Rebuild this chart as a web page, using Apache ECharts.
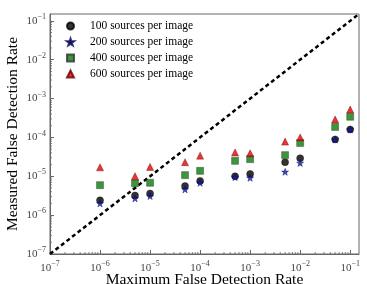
<!DOCTYPE html>
<html><head><meta charset="utf-8">
<script src="https://cdn.jsdelivr.net/npm/echarts@6/dist/echarts.min.js"></script>
<style>html,body{margin:0;padding:0;background:#fff}#c{width:367px;height:284px}</style>
</head><body><div id="c"></div>
<script>
const xRates = [1e-6, 5e-6, 1e-5, 5e-5, 1e-4, 5e-4, 1e-3, 5e-3, 1e-2, 5e-2, 1e-1];
const src100 = [2.4e-6, 3.2e-6, 3.6e-6, 5.6e-6, 7.6e-6, 1.0e-5, 1.15e-5, 2.3e-5, 2.9e-5, 8.9e-5, 1.6e-4];
const src200 = [2.0e-6, 2.7e-6, 3.1e-6, 4.6e-6, 6.8e-6, 9.5e-6, 9.1e-6, 1.3e-5, 2.2e-5, 8.8e-5, 1.6e-4];
const src400 = [5.9e-6, 6.6e-6, 6.8e-6, 1.07e-5, 1.38e-5, 2.5e-5, 2.76e-5, 3.5e-5, 7.2e-5, 1.86e-4, 3.4e-4];
const src600 = [1.7e-5, 1.0e-5, 1.74e-5, 2.3e-5, 3.4e-5, 4.1e-5, 3.9e-5, 7.8e-5, 1.0e-4, 2.9e-4, 5.2e-4];
const seriesNames = ['100 sources per image', '200 sources per image', '400 sources per image', '600 sources per image'];
const axisMin = 1e-7, axisMax = 0.15;
const diagonal = [axisMin, axisMax];
const tickExps = [-7, -6, -5, -4, -3, -2, -1];
const minorMultipliers = [2, 3, 4, 5, 6, 7, 8, 9];

const minorValues = [];
tickExps.forEach(e => minorMultipliers.forEach(m => {
  const v = m * Math.pow(10, e);
  if (v < axisMax) minorValues.push(v);
}));

const FONT = 'Liberation Serif';
const STAR = 'path://M50,0 L61.8,35.1 L97.6,34.5 L68.8,56.6 L79.4,90.5 L50,70 L20.6,90.5 L31.2,56.6 L2.4,34.5 L38.2,35.1 Z';

function fmt(v) {
  const e = Math.round(Math.log10(v));
  if (Math.abs(Math.log10(v) - e) > 1e-6 || tickExps.indexOf(e) < 0) return '';
  return '{b|10}{s|\u2212' + Math.abs(e) + '}';
}
const rich = {
  b: {fontFamily: FONT, fontSize: 11, color: '#444'},
  s: {fontFamily: FONT, fontSize: 8, color: '#444', padding: [0, 0, 8, 0]}
};
function pts(ys) { return xRates.map((x, i) => [x, ys[i]]); }

const axisCommon = {
  type: 'log', logBase: 10, min: axisMin, max: axisMax,
  axisLine: {show: true, lineStyle: {color: '#666', width: 1}},
  axisTick: {show: true, inside: true, length: 4, lineStyle: {color: '#666'}},
  splitLine: {show: false},
  nameLocation: 'middle',
  nameMoveOverlap: false,
  nameTextStyle: {fontFamily: FONT, fontSize: 15.5, color: '#000'}
};

function minorTickSeries(isX) {
  return {
    type: 'custom', silent: true, clip: false, z: 5,
    data: minorValues.map(v => isX ? [v, axisMin] : [axisMin, v]),
    renderItem: function (params, api) {
      const p = api.coord([api.value(0), api.value(1)]);
      const shape = isX ? {x1: p[0], y1: p[1], x2: p[0], y2: p[1] - 2}
                        : {x1: p[0], y1: p[1], x2: p[0] + 2, y2: p[1]};
      return {type: 'line', shape: shape, style: {stroke: '#666', lineWidth: 0.8}};
    }
  };
}

const chart = echarts.init(document.getElementById('c'), null, {renderer: 'canvas'});
chart.setOption({
  animation: false,
  grid: {left: 50, right: 8, top: 14, bottom: 30, show: true, borderColor: '#666', borderWidth: 1,
         containLabel: false, outerBoundsMode: 'none'},
  legend: {
    orient: 'vertical', left: 61, top: 15, itemWidth: 7, itemHeight: 7, itemGap: 4,
    data: seriesNames,
    textStyle: {fontFamily: FONT, fontSize: 11.5, color: '#000', padding: [0, 0, 0, 11]}
  },
  xAxis: Object.assign({}, axisCommon, {
    name: 'Maximum False Detection Rate', nameGap: 18,
    axisLabel: {formatter: fmt, rich: rich, margin: 6, showMaxLabel: false}
  }),
  yAxis: Object.assign({}, axisCommon, {
    name: 'Measured False Detection Rate', nameGap: 29,
    axisLabel: {formatter: fmt, rich: rich, margin: 4, showMaxLabel: false}
  }),
  series: [
    {type: 'line', data: diagonal.map(v => [v, v]), symbol: 'none', silent: true,
     lineStyle: {color: '#000', width: 2.5, type: [4, 3]}, z: 1},
    {name: seriesNames[0], type: 'scatter', data: pts(src100), symbol: 'circle', symbolSize: 7,
     itemStyle: {color: '#000', borderColor: '#000', borderWidth: 0.5}, z: 3},
    {name: seriesNames[1], type: 'scatter', data: pts(src200), symbol: STAR, symbolSize: 7,
     itemStyle: {color: '#1414b4', borderColor: '#000050', borderWidth: 0.5}, z: 4},
    {name: seriesNames[2], type: 'scatter', data: pts(src400), symbol: 'rect', symbolSize: 7,
     itemStyle: {color: '#0a7a0a', borderColor: '#333', borderWidth: 0.5}, z: 3},
    {name: seriesNames[3], type: 'scatter', data: pts(src600), symbol: 'triangle', symbolSize: 7,
     itemStyle: {color: '#e60000', borderColor: '#600', borderWidth: 0.5}, z: 3},
    minorTickSeries(true),
    minorTickSeries(false)
  ]
});
</script></body></html>
